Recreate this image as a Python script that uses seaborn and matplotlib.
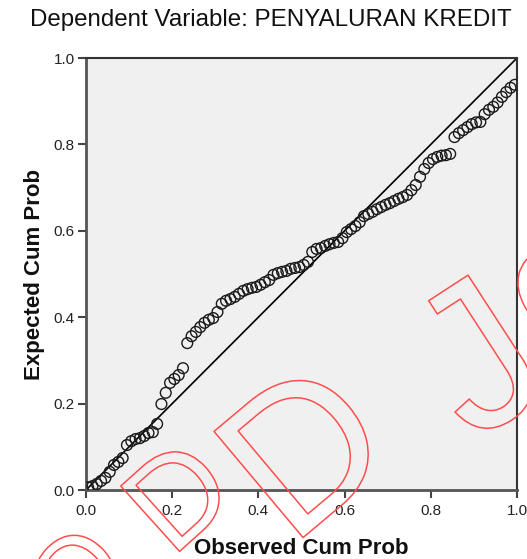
import numpy as np
import pandas as pd
import matplotlib
matplotlib.use("Agg")
import matplotlib.pyplot as plt
import matplotlib.patheffects as pe
import seaborn as sns

# P-P plot data
observed = [
    0.005, 0.015, 0.025, 0.035, 0.045, 0.055, 0.065, 0.075, 0.085, 0.095,
    0.105, 0.115, 0.125, 0.135, 0.145, 0.155, 0.165, 0.175, 0.185, 0.195,
    0.205, 0.215, 0.225, 0.235, 0.245, 0.255, 0.265, 0.275, 0.285, 0.295,
    0.305, 0.315, 0.325, 0.335, 0.345, 0.355, 0.365, 0.375, 0.385, 0.395,
    0.405, 0.415, 0.425, 0.435, 0.445, 0.455, 0.465, 0.475, 0.485, 0.495,
    0.505, 0.515, 0.525, 0.535, 0.545, 0.555, 0.565, 0.575, 0.585, 0.595,
    0.605, 0.615, 0.625, 0.635, 0.645, 0.655, 0.665, 0.675, 0.685, 0.695,
    0.705, 0.715, 0.725, 0.735, 0.745, 0.755, 0.765, 0.775, 0.785, 0.795,
    0.805, 0.815, 0.825, 0.835, 0.845, 0.855, 0.865, 0.875, 0.885, 0.895,
    0.905, 0.915, 0.925, 0.935, 0.945, 0.955, 0.965, 0.975, 0.985, 0.995,
]
expected = [
    0.006, 0.009, 0.014, 0.021, 0.028, 0.042, 0.058, 0.065, 0.074, 0.104,
    0.113, 0.118, 0.120, 0.125, 0.132, 0.134, 0.153, 0.199, 0.225, 0.248,
    0.257, 0.266, 0.282, 0.340, 0.356, 0.366, 0.377, 0.387, 0.394, 0.398,
    0.412, 0.431, 0.438, 0.442, 0.447, 0.454, 0.461, 0.465, 0.468, 0.470,
    0.475, 0.481, 0.486, 0.498, 0.502, 0.505, 0.507, 0.512, 0.514, 0.516,
    0.521, 0.528, 0.551, 0.558, 0.560, 0.565, 0.569, 0.572, 0.574, 0.583,
    0.597, 0.604, 0.611, 0.620, 0.634, 0.639, 0.644, 0.650, 0.655, 0.660,
    0.664, 0.669, 0.674, 0.678, 0.683, 0.694, 0.706, 0.725, 0.743, 0.757,
    0.766, 0.771, 0.774, 0.775, 0.778, 0.817, 0.826, 0.833, 0.840, 0.847,
    0.851, 0.852, 0.870, 0.880, 0.887, 0.897, 0.910, 0.921, 0.931, 0.938,
]
reference = [0.0, 1.0]
ticks = [0.0, 0.2, 0.4, 0.6, 0.8, 1.0]
tick_labels = ["0.0", "0.2", "0.4", "0.6", "0.8", "1.0"]

# outlined watermark letters: (char, x px, y px, rotation, size pt)
watermark = [
    ("O", 82, 582, 45, 80),
    ("D", 184, 503, 42, 92),
    ("D", 313, 462, 40, 145),
    ("J", 486, 370, 33, 150),
    ("O", 568, 296, 30, 90),
]

sns.set_style("white")
plt.rcParams['font.family'] = ['Liberation Sans', 'DejaVu Sans']

df = pd.DataFrame({"observed": observed, "expected": expected})

W, H = 527, 559
fig = plt.figure(figsize=(W / 100, H / 100), dpi=100)
ax = fig.add_axes([86 / W, 69 / H, 431 / W, 432 / H])
ax.set_facecolor("#f0f0f0")

ax.plot(reference, reference, color="black", linewidth=1.2, zorder=2)
sns.scatterplot(data=df, x="observed", y="expected", ax=ax, marker="o",
                s=60, facecolor="none", edgecolor="#1a1a1a", linewidth=1.0,
                zorder=3)

ax.set_xlim(0, 1)
ax.set_ylim(0, 1)
ax.set_xticks(ticks)
ax.set_xticklabels(tick_labels)
ax.set_yticks(ticks)
ax.set_yticklabels(tick_labels)
ax.tick_params(axis="both", direction="out", length=6, width=1.5,
               color="#444444", labelsize=11, labelcolor="#222222",
               bottom=True, left=True)
ax.tick_params(axis="x", pad=4)
ax.tick_params(axis="y", pad=2)
ax.set_xlabel("")
ax.set_ylabel("")

for side in ["left", "bottom"]:
    ax.spines[side].set_color("#555555")
    ax.spines[side].set_linewidth(2)
for side in ["top", "right"]:
    ax.spines[side].set_color("#333333")
    ax.spines[side].set_linewidth(1.5)

fig.text(271 / W, 1 - 20 / H, "Dependent Variable: PENYALURAN KREDIT",
         ha="center", va="center", fontsize=17.4, color="#111111")
fig.text(301 / W, 1 - 548 / H, "Observed Cum Prob", ha="center",
         va="center", fontsize=16, fontweight="bold", color="#111111")
fig.text(35 / W, 1 - 274 / H, "Expected Cum Prob", ha="center",
         va="center", rotation=90, fontsize=16, fontweight="bold",
         color="#111111")

# red outline watermark on top
for ch, px, py, rot, size in watermark:
    fig.text(px / W, 1 - py / H, ch, ha="center", va="center",
             rotation=rot, fontsize=size, color=(1, 1, 1, 0), zorder=10,
             path_effects=[pe.Stroke(linewidth=1.1, foreground="#ff4d4d")])

fig.savefig("out.png", dpi=100)
